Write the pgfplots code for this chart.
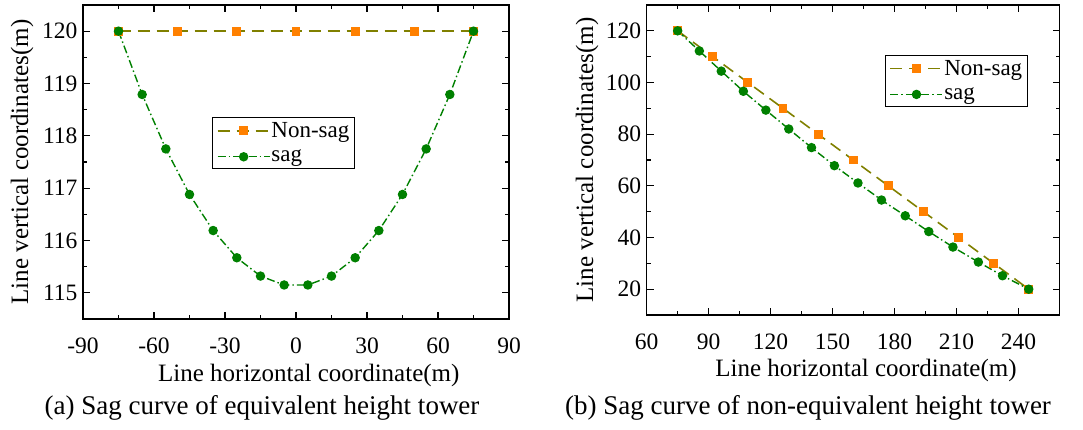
\documentclass[border=0pt]{standalone}
\usepackage{fontspec}
\setmainfont{Liberation Serif}
\usepackage{pgfplots}
\pgfplotsset{compat=1.18}
\definecolor{olivec}{RGB}{128,128,0}
\definecolor{orangec}{RGB}{255,128,0}
\definecolor{greenc}{RGB}{0,128,0}
\pgfplotsset{
  myaxis/.style={
    scale only axis,
    axis line style={line width=1.3pt},
    tick style={line width=1.1pt, black},
    major tick length=7pt,
    minor tick length=4pt,
    minor tick num=1,
    tick align=inside,
    xtick pos=both, ytick pos=both,
    /pgf/number format/assume math mode=true,
    tick label style={font=\fontsize{23.5}{23.5}\selectfont},
    xticklabel style={yshift=-15pt},
    yticklabel style={xshift=-2pt},
    label style={font=\fontsize{25}{25}\selectfont},
    legend style={font=\fontsize{23}{23}\selectfont, draw=black, line width=0.8pt,
      inner sep=4pt, row sep=9pt, legend cell align=left, anchor=center,
      nodes={inner sep=1pt}},
    legend image code/.code={
      \draw[##1, mark repeat=2, mark phase=2] plot coordinates {(0pt,0pt) (26pt,0pt) (52pt,0pt)};
    },
  },
  nonsag/.style={color=olivec, line width=1.6pt, dash pattern=on 12pt off 7pt,
    mark=square*, mark size=3.6pt, mark options={solid, draw=orangec, fill=orangec}},
  sag/.style={color=greenc, line width=1.4pt, dash pattern=on 8pt off 3pt on 1.5pt off 3pt,
    mark=*, mark size=4pt, mark options={solid, draw=greenc, fill=greenc}},
}
\begin{document}
\begin{tikzpicture}[x=1pt,y=1pt]
\useasboundingbox (0,0) rectangle (1083,430);
\begin{axis}[myaxis,
  at={(83pt,111pt)}, anchor=south west,
  width=426pt, height=314pt,
  xmin=-90, xmax=90, ymin=114.5, ymax=120.5,
  xtick={-90,-60,-30,0,30,60,90},
  ytick={115,116,117,118,119,120},
  xlabel={Line horizontal coordinate(m)},
  ylabel={Line vertical coordinates(m)},
  xlabel style={at={(axis description cs:0.53,-0.18)}, anchor=center},
  ylabel style={at={(axis description cs:-0.143,0.5)}, anchor=center, rotate=0},
  legend style={at={(axis description cs:0.471,0.5605)}},
]
\addplot[nonsag] coordinates {(-75,120) (-50,120) (-25,120) (0,120) (25,120) (50,120) (75,120)};
\addplot[sag] coordinates {
(-75,120) (-65,118.79) (-55,117.75) (-45,116.88) (-35,116.19) (-25,115.67) (-15,115.32) (-5,115.15)
(5,115.15) (15,115.32) (25,115.67) (35,116.19) (45,116.88) (55,117.75) (65,118.79) (75,120)};
\legend{Non-sag,sag}
\end{axis}
\begin{axis}[myaxis,
  at={(646.7pt,115pt)}, anchor=south west,
  width=413pt, height=310pt,
  xmin=60, xmax=260, ymin=10, ymax=130,
  xtick={60,90,120,150,180,210,240},
  ytick={20,40,60,80,100,120},
  xlabel={Line horizontal coordinate(m)},
  ylabel={Line vertical coordinates(m)},
  xlabel style={at={(axis description cs:0.531,-0.18)}, anchor=center},
  ylabel style={at={(axis description cs:-0.1445,0.5)}, anchor=center},
  legend style={at={(axis description cs:0.75,0.756)}},
]
\addplot[nonsag] coordinates {(75,120) (92,110) (109,100) (126,90) (143,80) (160,70) (177,60) (194,50) (211,40) (228,30) (245,20)};
\addplot[sag] coordinates {
(75,120) (85.5,112.2) (96.1,104.4) (106.8,96.6) (117.7,89.3) (128.8,82.0) (139.8,74.8) (150.9,67.8)
(162.3,61.1) (173.7,54.5) (185.2,48.4) (196.6,42.3) (208.3,36.3) (220.6,30.5) (232.3,25.2) (245,20)};
\legend{Non-sag,sag}
\end{axis}
\node[font=\fontsize{27}{27}\selectfont] at (262,22) {(a) Sag curve of equivalent height tower};
\node[font=\fontsize{27}{27}\selectfont] at (808,22) {(b) Sag curve of non-equivalent height tower};
\end{tikzpicture}
\end{document}
